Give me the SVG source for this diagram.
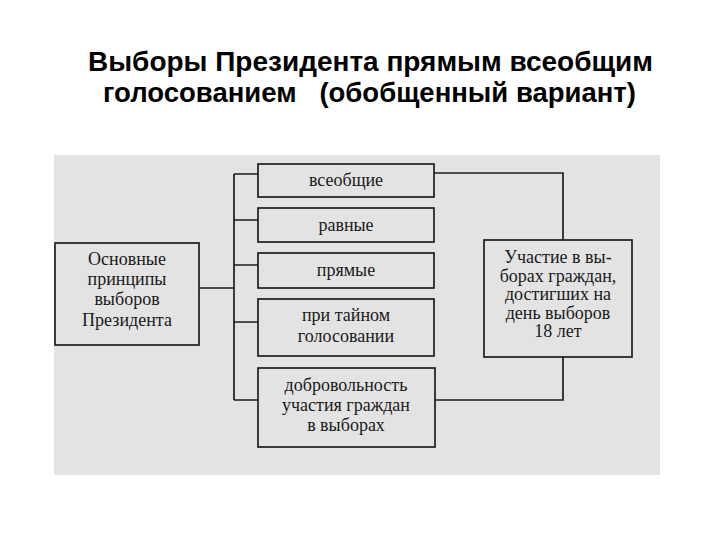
<svg xmlns="http://www.w3.org/2000/svg" width="720" height="540" viewBox="0 0 720 540">
<style>
.title{font-family:"Liberation Sans",Arial,sans-serif;font-weight:bold;font-size:27.5px;fill:#000;text-anchor:middle;white-space:pre}
.box{fill:none;stroke:#1e1e1e;stroke-width:1.7}
.lbl{font-family:"Liberation Serif","Times New Roman",serif;font-size:18px;fill:#1a1a1a;text-anchor:middle}
.con{fill:none;stroke:#1e1e1e;stroke-width:1.7}
</style>
<rect x="0" y="0" width="720" height="540" fill="#fff"/>
<text class="title" x="370.5" y="70.5" textLength="565" lengthAdjust="spacingAndGlyphs">Выборы Президента прямым всеобщим</text>
<text class="title" x="369.5" y="101.5" xml:space="preserve" textLength="533" lengthAdjust="spacingAndGlyphs">голосованием   (обобщенный вариант)</text>
<rect x="54" y="155" width="606" height="320" fill="#e3e3e3"/>
<g id="connectors">
<path class="con" d="M199 288 H234 M234 174 V400 M234 174 H258 M234 220 H258 M234 265 H258 M234 322 H258 M234 400 H258"/>
<path class="con" d="M434 173 H563 V240 M435 400 H563 V357"/>
</g>
<g id="principles">
<rect class="box" x="55" y="243" width="144" height="102"/>
<text class="lbl" x="127" y="265">Основные</text>
<text class="lbl" x="127" y="285">принципы</text>
<text class="lbl" x="127" y="305">выборов</text>
<text class="lbl" x="127" y="326">Президента</text>
</g>
<g id="universal">
<rect class="box" x="258" y="164" width="176" height="33"/>
<text class="lbl" x="346" y="186">всеобщие</text>
</g>
<g id="equal">
<rect class="box" x="258" y="208" width="176" height="34"/>
<text class="lbl" x="346" y="231">равные</text>
</g>
<g id="direct">
<rect class="box" x="258" y="253" width="176" height="35"/>
<text class="lbl" x="346" y="276">прямые</text>
</g>
<g id="secret">
<rect class="box" x="258" y="299" width="176" height="57"/>
<text class="lbl" x="346" y="321">при тайном</text>
<text class="lbl" x="346" y="342">голосовании</text>
</g>
<g id="voluntary">
<rect class="box" x="258" y="368" width="177" height="79"/>
<text class="lbl" x="346" y="391">добровольность</text>
<text class="lbl" x="346" y="411">участия граждан</text>
<text class="lbl" x="346" y="431">в выборах</text>
</g>
<g id="participation">
<rect class="box" x="484" y="240" width="148" height="117"/>
<text class="lbl" x="558" y="263">Участие в вы-</text>
<text class="lbl" x="558" y="281.5">борах граждан,</text>
<text class="lbl" x="558" y="300">достигших на</text>
<text class="lbl" x="558" y="318.5">день выборов</text>
<text class="lbl" x="558" y="337">18 лет</text>
</g>
</svg>
